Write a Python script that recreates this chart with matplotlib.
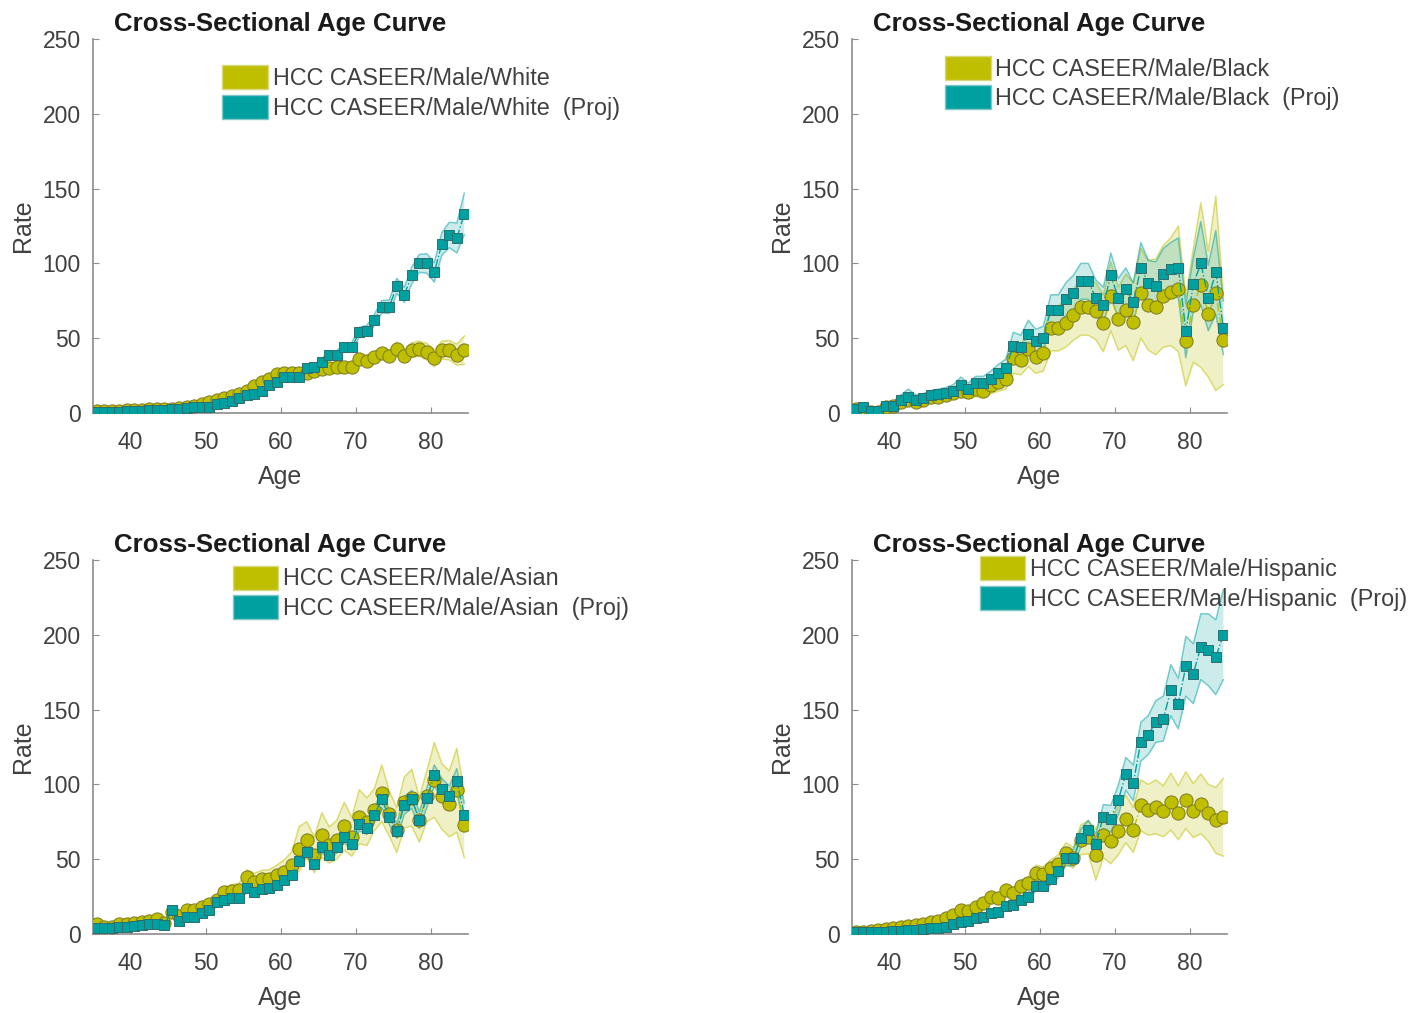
import numpy as np
import matplotlib.pyplot as plt
from matplotlib.patches import Patch

plt.rcParams['font.family'] = ['Liberation Sans', 'DejaVu Sans']

# age midpoints, 35.5 .. 84.5
ages = np.arange(35.5, 85.0, 1.0)

# ---- Male/White ----
white_obs = [1.5, 1.5, 1.5, 1.5, 2, 2, 2, 2.5, 2.5, 3,
             3, 3.5, 4, 5, 6, 7.5, 9, 10, 11.5, 13,
             15, 18, 21, 23, 26, 27, 26.5, 26.5, 27, 28,
             29.5, 30, 30.5, 31, 30.5, 36, 35, 37.5, 40, 38,
             43, 38, 42, 43, 41, 36.5, 42, 42, 39, 42]
white_obs_hw = [0.5, 0.5, 0.5, 0.5, 0.5, 0.5, 0.5, 0.5, 0.5, 0.5,
                0.7, 0.7, 0.8, 0.8, 1, 1, 1.2, 1.3, 1.5, 1.6,
                1.8, 2, 2, 2.2, 2.3, 2.5, 2.5, 2.5, 2.6, 2.7,
                2.8, 2.9, 3, 3, 3, 3.3, 3.5, 3.5, 3.8, 3.7,
                4.5, 4.5, 5, 5, 5.5, 5.5, 6, 6.5, 7, 9.5]
white_proj = [1, 1, 1, 1, 1.5, 1.5, 1.5, 2, 2, 2,
              2.5, 3, 3.5, 4, 4, 4, 6, 7, 8, 10,
              12, 13, 15, 19, 21, 24, 24, 24, 30, 30.5,
              34, 39, 39, 44, 44, 54, 55, 62, 71, 71,
              85, 79, 92, 100, 100, 94, 113, 119, 117, 133]
white_proj_hw = [0.3, 0.3, 0.3, 0.3, 0.3, 0.3, 0.3, 0.3, 0.3, 0.3,
                 0.3, 0.3, 0.3, 0.3, 0.3, 0.5, 0.6, 0.7, 0.8, 0.9,
                 1, 1.1, 1.2, 1.3, 1.5, 1.6, 1.7, 1.8, 2, 2.1,
                 2.3, 2.5, 2.6, 2.8, 3, 3.3, 3.5, 3.8, 4.2, 4.5,
                 5, 5, 5.5, 6, 6.5, 6.5, 7.5, 8.5, 10, 14]

# ---- Male/Black ----
black_obs = [2.5, 3, 1, 1, 4, 5, 7.5, 9, 7.5, 9,
             10.5, 11, 12, 13.5, 15, 14, 16, 15, 19, 21,
             23, 36.5, 35.5, 43, 37.5, 40, 56.5, 56.5, 60, 65.5,
             71, 71, 68, 60, 78, 63, 69, 61, 80, 72,
             71, 78, 81, 83, 48, 72, 85.5, 66, 80, 49]
black_obs_hw = [2, 2, 1.5, 1.5, 2, 2, 2.5, 3, 2.5, 3,
                3, 3.5, 3.5, 4, 4.5, 4.5, 5, 5, 6, 6.5,
                7, 10, 10, 12, 11, 12, 15, 15, 16, 17,
                19, 19, 19, 19, 23, 21, 24, 26, 30, 30,
                32, 34, 36, 42, 30, 38, 55, 42, 65, 30]
black_proj = [3, 4, 1.5, 1.5, 5, 5, 9, 11, 9, 10,
              12, 13, 13.5, 15, 19, 16, 20, 20, 23, 27,
              30, 45, 44, 53, 48, 50, 69, 69, 76, 80,
              88, 88, 77, 72, 92, 77, 83, 74, 97, 87,
              85, 93, 96, 97, 55, 86, 100, 77, 94, 57]
black_proj_hw = [1.5, 1.5, 1, 1, 1.5, 2, 3, 5, 3, 3,
                 3, 3, 3.5, 4, 5, 4, 4.5, 4.5, 5, 5.5,
                 6, 9, 8, 9, 8, 8, 10, 10, 11, 12,
                 12, 12, 12, 12, 15, 13, 14, 13, 17, 15,
                 16, 17, 18, 20, 18, 18, 28, 22, 28, 18]

# ---- Male/Asian ----
asian_obs = [6.5, 5, 5, 7, 7, 7.5, 8, 9, 10, 7.5,
             15, 12, 16, 16, 18, 20, 23, 28, 29, 29.5,
             38, 35, 37, 37, 39.5, 41.5, 46, 57, 63, 53,
             66, 59.5, 63, 72, 65, 78.5, 75, 83, 94, 80.5,
             69.5, 88, 91, 76.5, 92, 103, 92, 87, 96, 73]
asian_obs_hw = [1, 1, 1, 1, 1, 1, 1.2, 1.2, 1.3, 1.3,
                2, 2, 2, 2.2, 2.5, 2.8, 3, 3.5, 4, 4.5,
                5, 5.5, 5.5, 6, 6.5, 8, 9, 15, 12, 12,
                15, 12, 13, 16, 13, 18, 16, 14, 19, 15,
                15, 17, 19, 15, 17, 25, 22, 22, 28, 22]
asian_proj = [4, 4, 4, 5, 5, 5.5, 6, 6.5, 7, 6,
              16, 9, 11.5, 11.5, 14, 16, 21.5, 23, 24, 24,
              30.5, 28, 30, 30.5, 33, 36, 39.5, 49, 55, 46.5,
              58, 53, 58, 65, 60, 73.5, 71, 79.5, 90, 78,
              69, 86, 90, 76, 91, 106, 97, 92, 102.5, 79.5]
asian_proj_hw = [0.5, 0.5, 0.5, 0.6, 0.6, 0.6, 0.7, 0.7, 0.8, 0.8,
                 1, 1, 1.2, 1.2, 1.3, 1.4, 1.5, 1.6, 1.7, 1.8,
                 2, 2, 2.2, 2.3, 2.5, 2.6, 2.8, 3, 3.2, 3,
                 3.5, 3.5, 3.8, 4, 4, 4.5, 4.5, 5, 5.5, 5,
                 5, 6, 6, 5.5, 6.5, 7, 7, 7, 8, 8]

# ---- Male/Hispanic ----
hisp_obs = [1.5, 1.5, 2, 2.7, 3, 4, 4.5, 5.3, 6, 7,
            8, 9, 10.5, 12.7, 16, 15.6, 18, 20.5, 25, 24,
            29.5, 27.6, 32, 34, 41, 40, 44, 47, 54, 51,
            63, 64.6, 53, 66, 62, 69, 77, 69.5, 86, 83,
            85, 82, 88.5, 81, 89.5, 82.5, 87, 81, 76, 78]
hisp_obs_hw = [0.5, 0.5, 0.5, 0.6, 0.6, 0.7, 0.8, 0.9, 1, 1.1,
               1.2, 1.3, 1.5, 1.7, 2, 2, 2.3, 2.5, 3, 3,
               3.5, 3.5, 4, 4.2, 5, 5, 5.5, 6, 7, 7,
               10, 11, 17, 15, 15, 16, 16, 15, 17, 17,
               18, 17, 19, 18, 19, 18, 20, 19, 22, 26]
hisp_proj = [1, 1, 1, 1.5, 1.5, 2, 2, 2.7, 2.7, 3,
             4, 4, 5, 7, 8, 9, 10.5, 11.5, 14, 15,
             19, 19.5, 23, 25, 32, 32, 37, 42, 50.5, 51,
             64, 69.5, 60, 78.5, 77, 89.5, 107, 101, 128.5, 133,
             142, 144, 163, 154, 179, 174, 192, 190, 185, 200]
hisp_proj_hw = [0.3, 0.3, 0.3, 0.3, 0.3, 0.4, 0.4, 0.4, 0.5, 0.5,
                0.6, 0.7, 0.8, 1, 1, 1.2, 1.3, 1.5, 1.7, 1.8,
                2, 2.2, 2.5, 2.8, 3.2, 3.5, 4, 4.5, 5, 5.5,
                6, 6.5, 7, 8, 9, 10, 11, 12, 13, 13,
                14, 15, 17, 17, 20, 20, 22, 24, 25, 30]

panels = [
    ('White', white_obs, white_obs_hw, white_proj, white_proj_hw, (0.345, 0.93)),
    ('Black', black_obs, black_obs_hw, black_proj, black_proj_hw, (0.248, 0.955)),
    ('Asian', asian_obs, asian_obs_hw, asian_proj, asian_proj_hw, (0.372, 0.985)),
    ('Hispanic', hisp_obs, hisp_obs_hw, hisp_proj, hisp_proj_hw, (0.341, 1.01)),
]

olive = '#bfbf00'
teal = '#00a0a0'
txt = '#404040'
axc = '#8c8c8c'

fig = plt.figure(figsize=(14.27, 10.13), dpi=100)
rects = [
    [0.0652, 0.5923, 0.2628, 0.3692],
    [0.5971, 0.5923, 0.2628, 0.3692],
    [0.0652, 0.0780, 0.2628, 0.3692],
    [0.5971, 0.0780, 0.2628, 0.3692],
]

for rect, (grp, obs, obs_hw, proj, proj_hw, leg_pos) in zip(rects, panels):
    ax = fig.add_axes(rect)
    obs = np.array(obs)
    proj = np.array(proj)
    obs_hw = np.array(obs_hw)
    proj_hw = np.array(proj_hw)

    # confidence bands
    ax.fill_between(ages, obs - obs_hw, obs + obs_hw, facecolor=olive, alpha=0.22,
                    edgecolor='none', zorder=1)
    ax.plot(ages, obs - obs_hw, color=olive, lw=1.1, alpha=0.5, zorder=1)
    ax.plot(ages, obs + obs_hw, color=olive, lw=1.1, alpha=0.5, zorder=1)
    ax.fill_between(ages, proj - proj_hw, proj + proj_hw, facecolor=teal, alpha=0.2,
                    edgecolor='none', zorder=2)
    ax.plot(ages, proj - proj_hw, color=teal, lw=1.1, alpha=0.5, zorder=2)
    ax.plot(ages, proj + proj_hw, color=teal, lw=1.1, alpha=0.5, zorder=2)

    # estimates
    ax.plot(ages, obs, ls='-.', lw=1, color=olive, marker='o', ms=9.5,
            mfc=olive, mec='#7a7a20', mew=0.7, zorder=3)
    ax.plot(ages, proj, ls='-.', lw=1, color=teal, marker='s', ms=7.5,
            mfc=teal, mec='#2e6e6e', mew=0.7, zorder=4)

    ax.set_xlim(35, 85)
    ax.set_ylim(0, 250)
    ax.set_xticks([40, 50, 60, 70, 80])
    ax.set_yticks([0, 50, 100, 150, 200, 250])
    for s in ('top', 'right'):
        ax.spines[s].set_visible(False)
    for s in ('left', 'bottom'):
        ax.spines[s].set_color(axc)
        ax.spines[s].set_linewidth(1.2)
    ax.tick_params(direction='in', length=4, color=axc, labelsize=16.5,
                   labelcolor=txt)
    ax.tick_params(axis='x', pad=13)
    ax.tick_params(axis='y', pad=9)
    ax.set_xlabel('Age', fontsize=18, color=txt, labelpad=8)
    ax.set_ylabel('Rate', fontsize=18, color=txt, labelpad=5)
    ax.set_title('Cross-Sectional Age Curve', fontsize=18.6, fontweight='bold',
                 color='#1a1a1a', pad=6)

    handles = [Patch(facecolor=olive, edgecolor='#d8d880'),
               Patch(facecolor=teal, edgecolor='#80c8c8')]
    labels = ['HCC CASEER/Male/%s' % grp, 'HCC CASEER/Male/%s  (Proj)' % grp]
    leg = ax.legend(handles, labels, loc='upper left', bbox_to_anchor=leg_pos,
                    frameon=False, fontsize=16.8, handlelength=1.95, handleheight=1.2,
                    handletextpad=0.2, labelspacing=0.2, borderpad=0,
                    borderaxespad=0)
    for t in leg.get_texts():
        t.set_color(txt)

fig.savefig('out.png', dpi=100)
